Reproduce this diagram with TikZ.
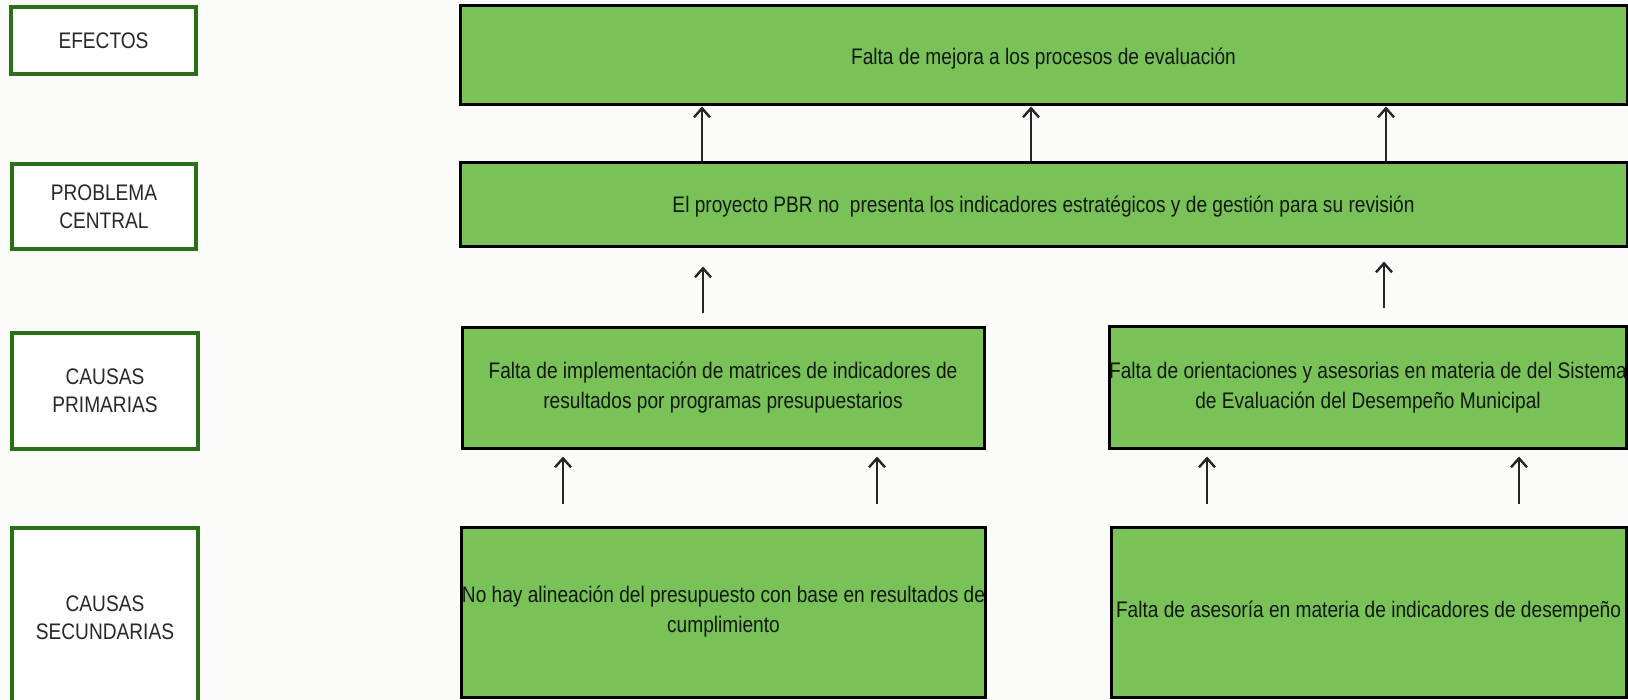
\documentclass[tikz,border=0pt]{standalone}
\usepackage{fontspec}
\setmainfont{Liberation Sans}[FakeStretch=0.85]
\usetikzlibrary{arrows.meta}
\definecolor{gfill}{RGB}{120,194,88}
\definecolor{lblborder}{RGB}{42,112,24}
\definecolor{gtext}{RGB}{18,24,14}
\definecolor{ltext}{RGB}{40,40,40}
\definecolor{bg}{RGB}{251,251,249}
\begin{document}
\begin{tikzpicture}[x=1pt,y=-1pt,
  lbl/.style={draw=lblborder, line width=3.5pt, fill=white, inner sep=0pt,
    text=ltext, align=center, font=\fontsize{22.5}{28}\selectfont},
  gbox/.style={draw=black, line width=3pt, fill=gfill, inner sep=0pt,
    text=gtext, align=center, font=\fontsize{22.5}{30}\selectfont},
  arr/.style={draw=black!85, line width=2.4pt, -{Straight Barb[length=9pt,width=16pt,line width=2.4pt]}}]
\useasboundingbox (0,0) rectangle (1628,700);
\fill[bg] (0,0) rectangle (1628,700);
\clip (0,0) rectangle (1628,700);
% left labels
\node[lbl, minimum width=185, minimum height=67] (lef) at (103.5,40.5) {EFECTOS};
\node[lbl, minimum width=184, minimum height=85] (lpc) at (104,206.5) {PROBLEMA\\CENTRAL};
\node[lbl, minimum width=186, minimum height=116] (lcp) at (105,391) {CAUSAS\\PRIMARIAS};
\node[lbl, minimum width=186, minimum height=180] (lcs) at (105,618) {CAUSAS\\SECUNDARIAS};
% green boxes
\node[gbox, minimum width=1167, minimum height=99] (eff) at (1043.5,55.5) {};
\node[text=gtext, font=\fontsize{22.5}{30}\selectfont, inner sep=0pt] (efft) at (1043.5,59) {Falta de mejora a los procesos de evaluación};
\node[gbox, minimum width=1167, minimum height=84] (cen) at (1043.5,205) {};
\node[text=gtext, font=\fontsize{22.5}{30}\selectfont, inner sep=0pt] (cent) at (1043.5,207) {El proyecto PBR no \ presenta los indicadores estratégicos y de gestión para su revisión};
\node[gbox, minimum width=522, minimum height=120] (p1) at (723,388) {Falta de implementación de matrices de indicadores de\\resultados por programas presupuestarios};
\node[gbox, minimum width=516, minimum height=121] (p2) at (1368,387.5) {Falta de orientaciones y asesorias en materia de del Sistema\\de Evaluación del Desempeño Municipal};
\node[gbox, minimum width=523, minimum height=170] (s1) at (723.5,612) {No hay alineación del presupuesto con base en resultados de\\cumplimiento};
\node[gbox, minimum width=515, minimum height=170] (s2) at (1368.5,612) {Falta de asesoría en materia de indicadores de desempeño};
% arrows central -> effect
\draw[arr] ([xshift=-341.5pt]cen.north) -- ([xshift=-341.5pt]eff.south);
\draw[arr] ([xshift=-12.5pt]cen.north) -- ([xshift=-12.5pt]eff.south);
\draw[arr] ([xshift=342.5pt]cen.north) -- ([xshift=342.5pt]eff.south);
% primary -> central
\draw[arr] ([xshift=-20pt,yshift=13pt]p1.north) -- ([xshift=-340.5pt,yshift=-18pt]cen.south);
\draw[arr] ([xshift=16pt,yshift=17pt]p2.north) -- ([xshift=340.5pt,yshift=-13pt]cen.south);
% secondary -> primary
\draw[arr] ([xshift=-160.5pt,yshift=22pt]s1.north) -- ([xshift=-160pt,yshift=-7pt]p1.south);
\draw[arr] ([xshift=153.5pt,yshift=22pt]s1.north) -- ([xshift=154pt,yshift=-7pt]p1.south);
\draw[arr] ([xshift=-161.5pt,yshift=22pt]s2.north) -- ([xshift=-161pt,yshift=-7pt]p2.south);
\draw[arr] ([xshift=150.5pt,yshift=22pt]s2.north) -- ([xshift=151pt,yshift=-7pt]p2.south);
\end{tikzpicture}
\end{document}
